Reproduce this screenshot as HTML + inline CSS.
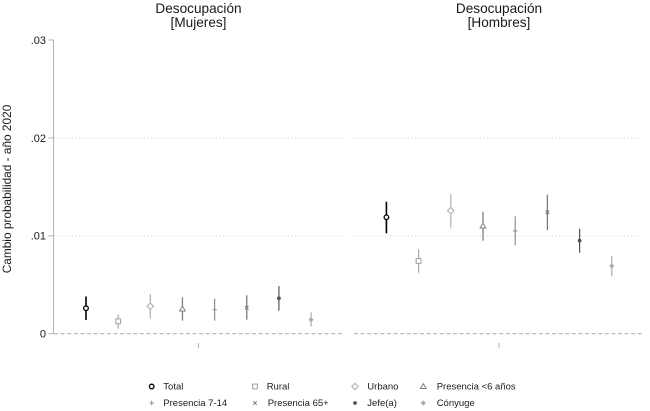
<!DOCTYPE html>
<html>
<head>
<meta charset="utf-8">
<style>
html,body{margin:0;padding:0;background:#fff;}
svg{display:block;font-family:"Liberation Sans",Arial,sans-serif;}
</style>
</head>
<body>
<svg id="chart" width="650" height="411" viewBox="0 0 650 411" xmlns="http://www.w3.org/2000/svg">
<rect width="650" height="411" fill="#fff"/>
<g id="plot" style="filter:blur(0.3px)"></g>
<g id="text" style="filter:blur(0.25px)"></g>
</svg>
<script>
const categories = ['Total','Rural','Urbano','Presencia <6 años','Presencia 7-14','Presencia 65+','Jefe(a)','Cónyuge'];
const panelTitles = ['Desocupación','Desocupación'];
const panelSubtitles = ['[Mujeres]','[Hombres]'];
const yTicks = [0,0.01,0.02,0.03];
const yTickLabels = ['0','.01','.02','.03'];
const mujeresValues = [0.0026,0.00127,0.0028,0.00252,0.00245,0.00266,0.00362,0.00143];
const mujeresLow = [0.0014,0.0005,0.00153,0.00133,0.00133,0.00143,0.00235,0.00072];
const mujeresHigh = [0.0038,0.00198,0.00405,0.00372,0.00358,0.00392,0.00487,0.00219];
const hombresValues = [0.01189,0.00743,0.01257,0.011,0.01049,0.0124,0.0095,0.00691];
const hombresLow = [0.01025,0.00623,0.01083,0.0095,0.00903,0.01059,0.00827,0.00586];
const hombresHigh = [0.01348,0.00862,0.01427,0.01246,0.01199,0.0142,0.01073,0.00793];

const NS = 'http://www.w3.org/2000/svg';
const plot = document.getElementById('plot');
const textLayer = document.getElementById('text');
const colors = ['#000000','#a8a8a8','#b0b0b0','#808080','#8f8f8f','#7a7a7a','#555555','#aaaaaa'];
const widths = [1.6,1.2,1.2,1.3,1.2,1.3,1.2,1.2];
const y = v => 333.7 - v / 0.01 * 97.9;
const xM = i => 86 + i * 32.15;
const xH = i => 386.4 + i * 32.2;

function mk(parent, tag, attrs, name, interact) {
  const el = document.createElementNS(NS, tag);
  for (const k in attrs) el.setAttribute(k, attrs[k]);
  
  
  parent.appendChild(el);
  return el;
}
function label(x, yy, str, size, anchor, name, fill) {
  const t = mk(textLayer, 'text', {x: x, y: yy, 'font-size': size, 'text-anchor': anchor, fill: fill || '#1a1a1a'}, name);
  t.textContent = str;
  return t;
}
function marker(parent, i, cx, cy, name) {
  const c = colors[i];
  const g = mk(parent, 'g', {}, name);
  const stroke = {fill: '#fff', stroke: c, 'stroke-width': 1.1};
  if (i === 0) {
    mk(g, 'circle', Object.assign({}, stroke, {cx: cx, cy: cy, r: 2.3, 'stroke-width': 1.3}), 'marker-circle');
  } else if (i === 1) {
    mk(g, 'rect', Object.assign({}, stroke, {x: cx-2.4, y: cy-2.4, width: 4.8, height: 4.8}), 'marker-square');
  } else if (i === 2) {
    mk(g, 'polygon', Object.assign({}, stroke, {points: [cx-3.2,cy,cx,cy-3.2,cx+3.2,cy,cx,cy+3.2].join(' ')}), 'marker-diamond');
  } else if (i === 3) {
    mk(g, 'polygon', {points: [cx-2.9,cy+2,cx,cy-2.8,cx+2.9,cy+2].join(' '), fill: '#fff', stroke: c, 'stroke-width': 1}, 'marker-triangle');
  } else if (i === 4) {
    mk(g, 'path', {d: 'M'+(cx-2.2)+' '+cy+'H'+(cx+2.2)+'M'+cx+' '+(cy-2.2)+'V'+(cy+2.2), stroke: c, 'stroke-width': 1, fill: 'none'}, 'marker-plus');
  } else if (i === 5) {
    mk(g, 'path', {d: 'M'+(cx-1.8)+' '+(cy-1.8)+'L'+(cx+1.8)+' '+(cy+1.8)+'M'+(cx+1.8)+' '+(cy-1.8)+'L'+(cx-1.8)+' '+(cy+1.8), stroke: c, 'stroke-width': 1, fill: 'none'}, 'marker-x');
  } else if (i === 6) {
    mk(g, 'circle', {cx: cx, cy: cy, r: 1.9, fill: c}, 'marker-dot');
  } else {
    mk(g, 'polygon', {points: [cx-2.6,cy,cx,cy-2.6,cx+2.6,cy,cx,cy+2.6].join(' '), fill: c}, 'marker-solid-diamond');
  }
}

/* grid lines */
[[54,343],[354,642]].forEach(function (p, n) {
  yTicks.forEach(function (t) {
    if (t === 0.03) return;
    mk(plot, 'line', {x1: p[0], x2: p[1], y1: y(t), y2: y(t),
      stroke: t === 0 ? '#b4b4b4' : '#d0d0d0',
      'stroke-width': t === 0 ? 1.1 : 1,
      'stroke-dasharray': t === 0 ? '4 2.6' : '1 2.6'}, t === 0 ? 'zero-line' : 'gridline');
  });
});

/* y axis */
mk(plot, 'line', {x1: 53.5, x2: 53.5, y1: y(0.03), y2: y(0), stroke: '#b8b8b8', 'stroke-width': 1.1}, 'y-axis-line');
yTicks.forEach(function (t, i) {
  mk(plot, 'line', {x1: 48.5, x2: 53.5, y1: y(t), y2: y(t), stroke: '#b0b0b0', 'stroke-width': 1}, 'y-tick');
  label(46, y(t) + 3.9, yTickLabels[i], 11, 'end', 'y-tick-label');
});

/* x ticks */
mk(plot, 'line', {x1: 198.5, x2: 198.5, y1: 343, y2: 348, stroke: '#b0b0b0', 'stroke-width': 1}, 'x-tick-mujeres');
mk(plot, 'line', {x1: 499, x2: 499, y1: 343, y2: 348, stroke: '#b0b0b0', 'stroke-width': 1}, 'x-tick-hombres');

/* series */
categories.forEach(function (c, i) {
  const key = c.toLowerCase().replace(/[^a-z0-9]+/g, '-');
  [[mujeresValues, mujeresLow, mujeresHigh, xM, 'mujeres'], [hombresValues, hombresLow, hombresHigh, xH, 'hombres']].forEach(function (s) {
    const g = mk(plot, 'g', {}, 'series-' + s[4] + '-' + key);
    mk(g, 'line', {x1: s[3](i), x2: s[3](i), y1: y(s[1][i]), y2: y(s[2][i]), stroke: colors[i], 'stroke-width': widths[i]}, 'ci-bar');
    marker(g, i, s[3](i), y(s[0][i]), 'point');
  });
});

/* titles */
label(198.5, 13, panelTitles[0], 13.6, 'middle', 'panel-title-mujeres');
label(198.5, 27, panelSubtitles[0], 13.6, 'middle', 'panel-subtitle-mujeres');
label(499, 13, panelTitles[1], 13.6, 'middle', 'panel-title-hombres');
label(499, 27, panelSubtitles[1], 13.6, 'middle', 'panel-subtitle-hombres');

/* y axis title */
const yt = label(0, 0, 'Cambio probabilidad - año 2020', 11.85, 'middle', 'y-axis-title');
yt.setAttribute('transform', 'translate(11,189) rotate(-90)');

/* legend */
const legendX = [151.7, 255, 355, 423.3];
const legendTextX = [163.3, 266.7, 367.3, 436.7];
const legendG = mk(plot, 'g', {}, 'legend');
categories.forEach(function (c, i) {
  const col = i % 4;
  const ly = i < 4 ? 386.5 : 403;
  const adj = (i === 5) ? 1 : 0;
  marker(legendG, i, legendX[col], ly, 'legend-marker');
  label(legendTextX[col] + adj, ly + 3.2, c, 9.5, 'start', 'legend-entry');
});
</script>
</body>
</html>
